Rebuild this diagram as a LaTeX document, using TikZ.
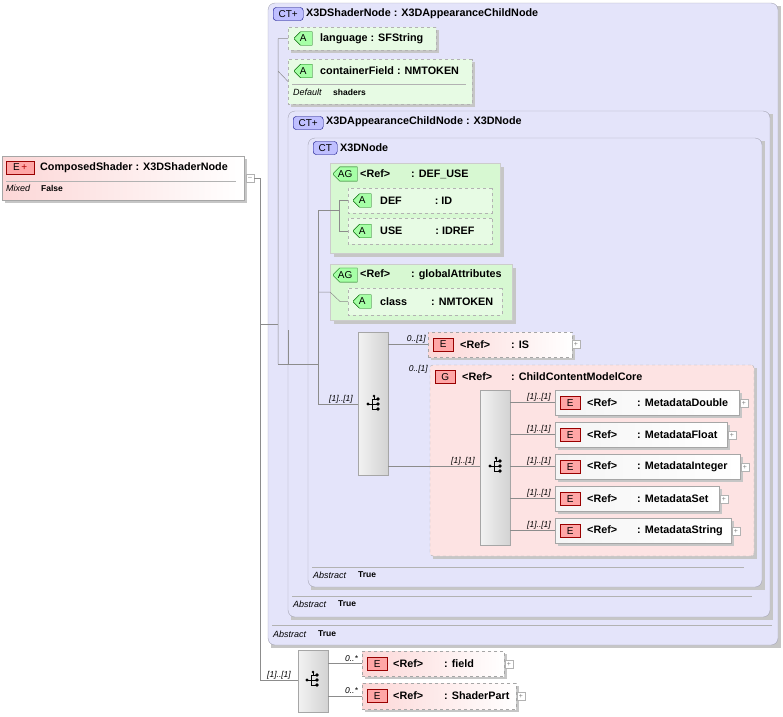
\documentclass[tikz,border=0pt]{standalone}
\usepackage{fontspec}
\setmainfont{Liberation Sans}
\usetikzlibrary{shapes.misc}
\definecolor{ctfill}{RGB}{228,228,250}
\definecolor{ctdraw}{RGB}{165,165,180}
\definecolor{epink}{RGB}{252,215,215}
\definecolor{gfill}{RGB}{215,248,210}
\definecolor{lnk}{RGB}{140,140,140}
\begin{document}
\begin{tikzpicture}[x=1pt,y=-1pt,
  font=\fontsize{10.8}{12}\selectfont\bfseries,
  box/.style={anchor=north west,inner sep=0pt,outer sep=0pt},
  ct/.style={box,draw=ctdraw,fill=ctfill,rounded corners=7},
  el/.style={box,draw=gray!70,left color=epink,right color=white},
  ref/.style={el,dashed},
  md/.style={box,draw=gray!70,left color=gray!8,right color=white},
  grp/.style={box,draw=gray!60,dashed,fill=epink!70,rounded corners=3},
  ag/.style={box,draw=gray!40,fill=gfill,chamfered rectangle,chamfered rectangle xsep=6pt,chamfered rectangle ysep=6pt,chamfered rectangle corners={north west,south west}},
  attr/.style={box,draw=gray!60,dashed,fill=gfill!60,chamfered rectangle,chamfered rectangle xsep=4pt,chamfered rectangle ysep=4pt,chamfered rectangle corners={north west,south west}},
  seq/.style={box,draw=gray!70,left color=gray!10,right color=gray!35},
  shadow/.style={fill=gray!45,draw=none},
  icE/.style={draw=red!60!black,fill=red!35,minimum width=20,minimum height=13,inner sep=0pt,font=\fontsize{10}{10}\selectfont},
  icA/.style={draw=green!40!black,fill=green!35,minimum width=18,minimum height=12,inner sep=0pt,font=\fontsize{10}{10}\selectfont,chamfered rectangle,chamfered rectangle xsep=3pt,chamfered rectangle corners={north west,south west}},
  icCT/.style={draw=blue!50!black,fill=blue!25,rounded corners=3,minimum width=24,minimum height=13,inner sep=0pt,font=\fontsize{10}{10}\selectfont},
  tx/.style={anchor=west,inner sep=0pt},
  it/.style={anchor=west,inner sep=0pt,font=\fontsize{9}{10}\selectfont\itshape},
  sm/.style={anchor=west,inner sep=0pt,font=\fontsize{8.5}{10}\selectfont\bfseries},
  card/.style={inner sep=0pt,font=\fontsize{8.5}{10}\selectfont\itshape},
  ln/.style={draw=lnk,line width=0.5pt},
  pl/.style={draw=gray!60,fill=white,minimum size=8,inner sep=0pt,font=\fontsize{7}{7}\selectfont\color{gray}}
]
\useasboundingbox (0,0) rectangle (783,716);

% ---------- root element
\fill[shadow] (5,159) rectangle (247,203);
\node[el,minimum width=242,minimum height=44] (root) at (2,156) {};
\node[icE,anchor=west,minimum width=28] (rootI) at (6,167.5) {E\,\textcolor{red!70!black}{+}};
\node[tx] (rootT) at (40,167.5) {ComposedShader : X3DShaderNode};
\draw[gray!60] (6,181) -- (236,181);
\node[it] (rootM) at (6,188) {Mixed};
\node[sm] (rootF) at (41,188) {False};
\node[pl] (rootm) at (250,178) {--};

% ---------- CT X3DShaderNode
\fill[shadow] (271,6) rectangle (781,648);
\node[ct,minimum width=510,minimum height=642] (ct1) at (268,3) {};
\node[icCT,anchor=west,minimum width=30] (ct1I) at (273,14) {CT+};
\node[tx] (ct1T) at (306,14) {X3DShaderNode : X3DAppearanceChildNode};
\draw[gray!60] (272,625) -- (772,625);
\node[it] (ct1A) at (273,634) {Abstract};
\node[sm] (ct1B) at (318,634) {True};

% language
\fill[shadow] (291,30) rectangle (439,53);
\node[attr,minimum width=148,minimum height=23] (lang) at (288,27) {};
\node[icA,anchor=west] (langI) at (294,38.5) {A};
\node[tx] (langT) at (320,38.5) {language : SFString};

% containerField
\fill[shadow] (291,62) rectangle (475,107);
\node[attr,minimum width=184,minimum height=45] (cf) at (288,59) {};
\node[icA,anchor=west] (cfI) at (294,71) {A};
\node[tx] (cfT) at (320,71) {containerField : NMTOKEN};
\draw[gray!60] (292,84) -- (466,84);
\node[it] (cfD) at (293,92) {Default};
\node[sm] (cfS) at (333,92) {shaders};

% ---------- CT X3DAppearanceChildNode
\fill[shadow] (291,114) rectangle (773,620);
\node[ct,minimum width=482,minimum height=506] (ct2) at (288,111) {};
\node[icCT,anchor=west,minimum width=30] (ct2I) at (293,123) {CT+};
\node[tx] (ct2T) at (326,122) {X3DAppearanceChildNode : X3DNode};
\draw[gray!60] (292,596) -- (752,596);
\node[it] (ct2A) at (293,604) {Abstract};
\node[sm] (ct2B) at (338,604) {True};

% ---------- CT X3DNode
\fill[shadow] (311,141) rectangle (765,590);
\node[ct,minimum width=454,minimum height=449] (ct3) at (308,138) {};
\node[icCT,anchor=west] (ct3I) at (313,148) {CT};
\node[tx] (ct3T) at (340,148) {X3DNode};
\draw[gray!60] (312,567) -- (744,567);
\node[it] (ct3A) at (313,575) {Abstract};
\node[sm] (ct3B) at (358,575) {True};

% AG DEF_USE
\fill[shadow] (334,167) rectangle (504,257);
\node[ag,minimum width=170,minimum height=90] (agdu) at (330,163) {};
\node[icA,anchor=west,minimum width=24] (agduI) at (333,174) {AG};
\node[tx] (agduT) at (360,174) {<Ref>\hspace{21pt}: DEF\_USE};
\node[attr,minimum width=144,minimum height=25] (def) at (348,188) {};
\node[icA,anchor=west] (defI) at (353,200.5) {A};
\node[tx] (defT) at (380,200.5) {DEF\hspace{33pt}: ID};
\node[attr,minimum width=144,minimum height=26] (use) at (348,218) {};
\node[icA,anchor=west] (useI) at (353,231) {A};
\node[tx] (useT) at (380,231) {USE\hspace{33pt}: IDREF};

% AG globalAttributes
\fill[shadow] (334,268) rectangle (516,324);
\node[ag,minimum width=182,minimum height=56] (agga) at (330,264) {};
\node[icA,anchor=west,minimum width=24] (aggaI) at (333,275) {AG};
\node[tx] (aggaT) at (360,275) {<Ref>\hspace{21pt}: globalAttributes};
\node[attr,minimum width=154,minimum height=27] (cls) at (348,288) {};
\node[icA,anchor=west] (clsI) at (353,301.5) {A};
\node[tx] (clsT) at (380,301.5) {class\hspace{24pt}: NMTOKEN};

% sequence 1
\node[seq,minimum width=30,minimum height=143] (seq1) at (358,332) {};
\node[inner sep=0pt] (seq1I) at (374,404) {};

% IS
\fill[shadow] (431,335) rectangle (575,360);
\node[ref,minimum width=144,minimum height=25] (is) at (428,332) {};
\node[icE,anchor=west] (isI) at (433,344.5) {E};
\node[tx] (isT) at (460,344.5) {<Ref>\hspace{21pt}: IS};
\node[pl] (isP) at (576,344.5) {+};

% group
\fill[shadow] (433,368) rectangle (757,559);
\node[grp,minimum width=324,minimum height=191] (grp) at (430,365) {};
\node[icE,anchor=west] (grpI) at (435,377) {G};
\node[tx] (grpT) at (462,377) {<Ref>\hspace{19pt}: ChildContentModelCore};

% sequence 2
\node[seq,minimum width=30,minimum height=155] (seq2) at (480,390) {};
\node[inner sep=0pt] (seq2I) at (496,466) {};

% metadata
\foreach \n/\y/\w/\t in {mdd/390/184/MetadataDouble,mdf/422/172/MetadataFloat,mdi/454/185/MetadataInteger,mds/486/164/MetadataSet,mdst/518/176/MetadataString}{
  \fill[shadow] (558,\y+3) rectangle (555+\w+3,\y+28);
  \node[md,minimum width=\w,minimum height=25] (\n) at (555,\y) {};
  \node[icE,anchor=west] (\n I) at (560,\y+13) {E};
  \node[tx] (\n T) at (587,\y+12.5) {<Ref>\hspace{20pt}: \t};
  \node[pl] (\n P) at (555+\w+5,\y+13) {+};
  \draw[ln] (seq2.east |- \n.west) -- (\n.west);
  \node[card,anchor=south east] (\n C) at (551,\y+11) {[1]..[1]};
}

% bottom sequence
\node[seq,minimum width=30,minimum height=62] (seq3) at (298,650) {};
\node[inner sep=0pt] (seq3I) at (313,680) {};
\fill[shadow] (365,654) rectangle (507,679);
\node[ref,minimum width=142,minimum height=25] (fld) at (362,651) {};
\node[icE,anchor=west] (fldI) at (367,664) {E};
\node[tx] (fldT) at (393,663.5) {<Ref>\hspace{21pt}: field};
\node[pl] (fldP) at (509,664) {+};
\fill[shadow] (365,686) rectangle (519,712);
\node[ref,minimum width=154,minimum height=26] (sp) at (362,683) {};
\node[icE,anchor=west] (spI) at (367,696) {E};
\node[tx] (spT) at (393,695.5) {<Ref>\hspace{21pt}: ShaderPart};
\node[pl] (spP) at (521,696) {+};

% sequence icons
\foreach \c in {seq1I,seq2I,seq3I}{
  \begin{scope}[shift={(\c)}]
    \fill (-6,0) circle (1.6);
    \draw[line width=0.8pt] (-6,0) -- (-2,0) (-2,-5) -- (-2,5) (-2,-5) -- (4,-5) (-2,0) -- (4,0) (-2,5) -- (4,5) (0,-8)--(0,-5);
    \fill (4,-5) circle (1.8) (4,0) circle (1.8) (4,5) circle (1.8) (0,-8) circle (1.4);
  \end{scope}
}

% ---------- connectors
\coordinate (jA) at (260,178);
\coordinate (jB) at (260,680);
\draw[ln] (rootm.east) -- (jA) -- (jB) -- (seq3.west |- jB);
\node[card,anchor=south] (c3) at (279,679) {[1]..[1]};
\coordinate (j1) at (278,38.5);
\coordinate (j2) at (278,364);
\draw[ln] (260,324) -- (278,324);
\draw[ln] (j1) -- (lang.west) (j1) -- (j2) (278,71) -- (cf.west);
\draw[ln] (j2) -- (318,364);
\draw[ln] (288,364) -- (288,330);
\coordinate (k1) at (318,210);
\coordinate (k2) at (318,404);
\draw[ln] (k1) -- (k2) -- (seq1.west |- k2);
\node[card,anchor=south] (c1) at (341,403) {[1]..[1]};
\draw[ln] (k1) -- (339,210) (339,200.5) -- (def.west) (339,200.5) -- (339,231) -- (use.west);
\draw[ln] (318,292) -- (330,292) (330,292) -- (340,301.5) -- (cls.west);
\draw[ln] (seq1.east |- is.west) -- (is.west);
\node[card,anchor=south east] (cis) at (426,343) {0..[1]};
\draw[ln] (seq1.east |- seq2I) -- (seq2.west |- seq2I);
\node[card,anchor=south] (cg2) at (463,465) {[1]..[1]};
\node[card,anchor=south east] (cg) at (428,373) {0..[1]};
\draw[ln] (seq3.east |- fld.west) -- (fld.west) (seq3.east |- sp.west) -- (sp.west);
\node[card,anchor=south east] (cf1) at (358,662) {0..*};
\node[card,anchor=south east] (cf2) at (358,694) {0..*};
\end{tikzpicture}
\end{document}
